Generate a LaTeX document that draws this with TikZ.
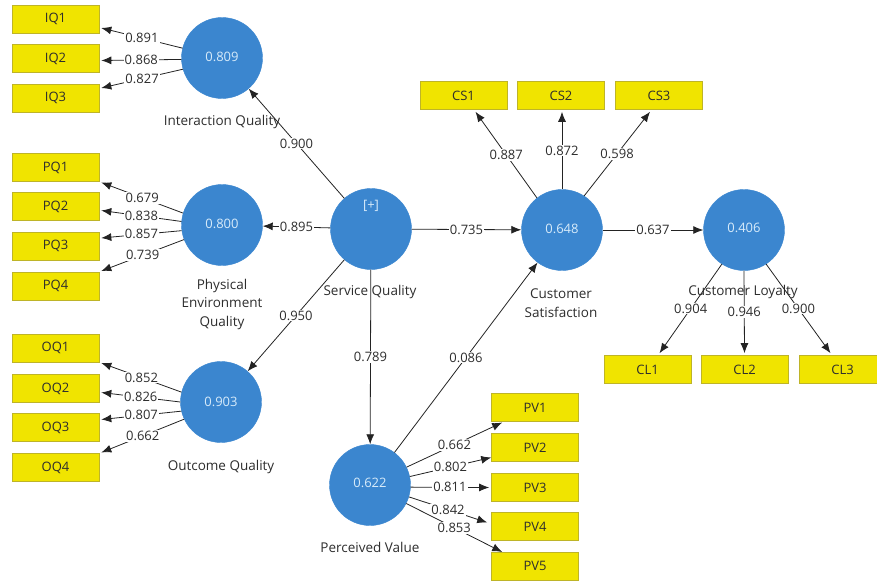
\documentclass[tikz,border=0pt]{standalone}
\usepackage{fontspec}
\setmainfont{Open Sans}
\usetikzlibrary{arrows.meta,calc}
\definecolor{cblue}{RGB}{59,134,207}
\definecolor{cval}{RGB}{215,235,250}
\definecolor{cyel}{RGB}{240,228,0}
\definecolor{cyelb}{RGB}{190,180,40}
\definecolor{ctext}{RGB}{45,45,45}
\definecolor{cline}{RGB}{35,35,35}
\begin{document}
\begin{tikzpicture}[x=1pt,y=-1pt,
 lv/.style={circle,fill=cblue,draw=cblue,minimum size=81pt,inner sep=0pt,text=cval,font=\fontsize{13}{15}\selectfont},
 ind/.style={rectangle,fill=cyel,draw=cyelb,line width=0.6pt,minimum width=87pt,minimum height=28pt,inner sep=0pt,text=ctext,font=\fontsize{13}{15}\selectfont},
 arr/.style={draw=cline,line width=0.8pt,-{Latex[length=10pt,width=8pt]}},
 coef/.style={fill=white,inner sep=1pt,text=ctext,font=\fontsize{13}{15}\selectfont},
 cname/.style={text=ctext,font=\fontsize{13.5}{18.5}\selectfont,align=center},
 pl/.style={text=cval,font=\fontsize{13}{15}\selectfont}
]
\path[use as bounding box,clip] (0,0) rectangle (877,586);

% latent variables
\node[lv] (iq) at (222,58) {\raisebox{3pt}{0.809}};
\node[lv] (pq) at (222,225) {\raisebox{3pt}{0.800}};
\node[lv] (oq) at (221,402) {\raisebox{1pt}{0.903}};
\node[lv] (sq) at (371,229) {};
\node[pl] (sqplus) at (371,206) {[+]};
\node[lv] (cs) at (562,230) {\raisebox{3pt}{0.648}};
\node[lv] (cl) at (744,230) {\raisebox{4pt}{0.406}};
\node[lv] (pv) at (370,485) {\raisebox{5pt}{0.622}};

% construct names
\node[cname] (iqn) at (222,122) {Interaction Quality};
\node[cname] (pqn) at (222,304) {Physical\\Environment\\Quality};
\node[cname] (oqn) at (221,467) {Outcome Quality};
\node[cname] (sqn) at (370,292) {Service Quality};
\node[cname] (csn) at (561,303) {Customer\\Satisfaction};
\node[cname] (cln) at (743,292) {Customer Loyalty};
\node[cname] (pvn) at (370,547) {Perceived Value};

% indicators
\node[ind] (IQ1) at (55.5,19) {IQ1};
\node[ind] (IQ2) at (55.5,58.5) {IQ2};
\node[ind] (IQ3) at (55.5,98) {IQ3};
\node[ind] (PQ1) at (55.5,167.5) {PQ1};
\node[ind] (PQ2) at (55.5,206.5) {PQ2};
\node[ind] (PQ3) at (55.5,246) {PQ3};
\node[ind] (PQ4) at (55.5,286) {PQ4};
\node[ind] (OQ1) at (55.5,348) {OQ1};
\node[ind] (OQ2) at (55.5,388.5) {OQ2};
\node[ind] (OQ3) at (55.5,427.5) {OQ3};
\node[ind] (OQ4) at (55.5,467.5) {OQ4};
\node[ind] (CS1) at (463.5,95.5) {CS1};
\node[ind] (CS2) at (561,95.5) {CS2};
\node[ind] (CS3) at (659,95.5) {CS3};
\node[ind] (CL1) at (647.5,369.5) {CL1};
\node[ind] (CL2) at (744.5,369.5) {CL2};
\node[ind] (CL3) at (842.5,369.5) {CL3};
\node[ind] (PV1) at (535,407.5) {PV1};
\node[ind] (PV2) at (535,447.5) {PV2};
\node[ind] (PV3) at (535,487.5) {PV3};
\node[ind] (PV4) at (535,526.5) {PV4};
\node[ind] (PV5) at (535,566) {PV5};

% outer loadings
\draw[arr] (iq.166) -- node[coef]{0.891} ($(IQ1.east)+(2,9)$);
\draw[arr] (iq.182) -- node[coef]{0.868} ($(IQ2.east)+(2,2)$);
\draw[arr] (iq.196) -- node[coef]{0.827} ($(IQ3.east)+(2,-10)$);

\draw[arr] (pq.163) -- node[coef]{0.679} ($(PQ1.east)+(2,15)$);
\draw[arr] (pq.175) -- node[coef]{0.838} ($(PQ2.east)+(2,4)$);
\draw[arr] (pq.188) -- node[coef]{0.857} ($(PQ3.east)+(2,-8)$);
\draw[arr] (pq.201) -- node[coef]{0.739} ($(PQ4.east)+(2,-15)$);

\draw[arr] (oq.166) -- node[coef]{0.852} ($(OQ1.east)+(2,15)$);
\draw[arr] (oq.180) -- node[coef]{0.826} ($(OQ2.east)+(2,4)$);
\draw[arr] (oq.193) -- node[coef]{0.807} ($(OQ3.east)+(2,-8)$);
\draw[arr] (oq.205) -- node[coef]{0.662} ($(OQ4.east)+(2,-15)$);

\draw[arr] (cs.128) -- node[coef]{0.887} ($(CS1.south)+(12,2)$);
\draw[arr] (cs.90) -- node[coef]{0.872} ($(CS2.south)+(1,2)$);
\draw[arr] (cs.57) -- node[coef]{0.598} ($(CS3.south)+(-9,2)$);

\draw[arr] (cl.237) -- node[coef]{0.904} ($(CL1.north)+(12,-2)$);
\draw[arr] (cl.270) -- node[coef]{0.946} ($(CL2.north)+(0,-2)$);
\draw[arr] (cl.303) -- node[coef]{0.900} ($(CL3.north)+(-12,-2)$);

\draw[arr] (pv.26) -- node[coef]{0.662} ($(PV1.west)+(11,15)$);
\draw[arr] (pv.12) -- node[coef]{0.802} ($(PV2.west)+(0,10)$);
\draw[arr] (pv.-3) -- node[coef]{0.811} ($(PV3.west)+(-2,0)$);
\draw[arr] (pv.-17) -- node[coef]{0.842} ($(PV4.west)+(-4,-4)$);
\draw[arr] (pv.-27) -- node[coef]{0.853} ($(PV5.west)+(11,-14)$);

% structural paths
\draw[arr] (sq) -- node[coef]{0.900} (iq);
\draw[arr] (sq) -- node[coef]{0.895} (pq);
\draw[arr] (sq) -- node[coef]{0.950} (oq);
\draw[arr] (sq) -- node[coef]{0.735} (cs);
\draw[arr] (sq) -- node[coef]{0.789} (pv);
\draw[arr] (pv) -- node[coef]{0.086} (cs);
\draw[arr] (cs) -- node[coef]{0.637} (cl);
\end{tikzpicture}
\end{document}
